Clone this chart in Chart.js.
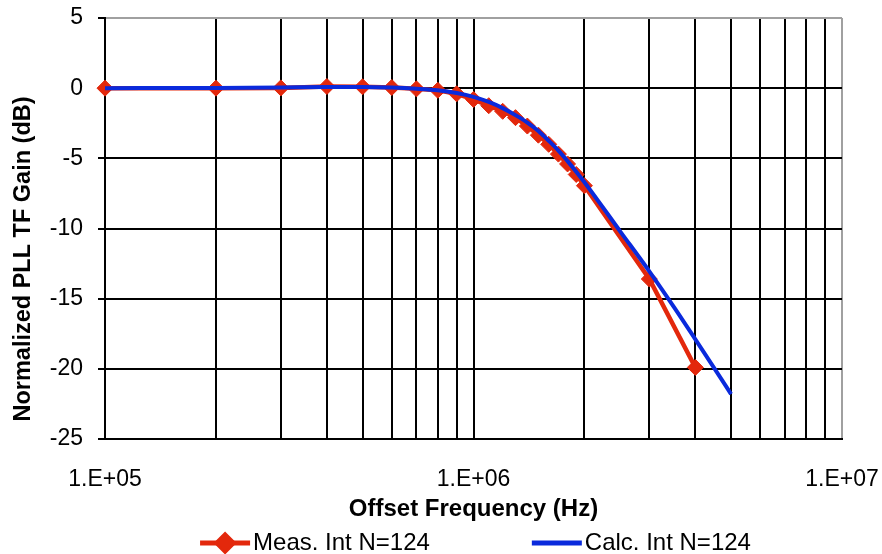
<!DOCTYPE html>
<html>
<head>
<meta charset="utf-8">
<title>PLL TF Gain</title>
<script src="https://cdn.jsdelivr.net/npm/chart.js@4.4.1/dist/chart.umd.min.js"></script>
<style>
  html, body { margin: 0; padding: 0; background: #fff; }
  #wrap { width: 882px; height: 554px; position: relative; }
</style>
</head>
<body>
<div id="wrap"><canvas id="tfChart"></canvas></div>
<script>
// measured points (red diamonds)
const measFreq = [1e5, 2e5, 3e5, 4e5, 5e5, 6e5, 7e5, 8e5, 9e5, 1e6,
  1.1e6, 1.2e6, 1.3e6, 1.4e6, 1.5e6, 1.6e6, 1.7e6, 1.8e6, 1.9e6, 2e6, 3e6, 4e6];
const measGain = [0.0, 0.0, 0.02, 0.12, 0.1, 0.05, -0.05, -0.15, -0.4, -0.8,
  -1.25, -1.65, -2.1, -2.7, -3.35, -4.0, -4.7, -5.4, -6.15, -6.95, -13.6, -19.9];

// calculated curve (blue)
const calcFreq = [1e5, 2e5, 3e5, 4e5, 5e5, 6e5, 7e5, 8e5, 9e5, 1e6,
  1.1e6, 1.2e6, 1.3e6, 1.4e6, 1.5e6, 1.6e6, 1.7e6, 1.8e6, 1.9e6, 2e6,
  2.5e6, 3e6, 3.5e6, 4e6, 4.5e6, 5e6];
const calcGain = [0.0, 0.02, 0.05, 0.08, 0.08, 0.04, -0.04, -0.15, -0.35, -0.62,
  -0.98, -1.42, -1.92, -2.45, -3.05, -3.75, -4.45, -5.2, -5.95, -6.7,
  -10.2, -13.05, -15.6, -17.9, -19.95, -21.8];

const seriesNames = ['Meas. Int N=124', 'Calc. Int N=124'];
const seriesColors = ['#E3280C', '#0A2ADC'];

// x axis: gridline at every 1..9 of each decade, labels only on decades
const xTicks = [];
for (const d of [1e5, 1e6]) {
  for (let m = 1; m < 10; m++) xTicks.push(m * d);
}
xTicks.push(1e7);
const xMajor = [1e5, 1e6, 1e7];
const xMajorLabels = ['1.E+05', '1.E+06', '1.E+07'];

const yMin = -25, yMax = 5, yStep = 5;
const xTitle = 'Offset Frequency (Hz)';
const yTitle = 'Normalized PLL TF Gain (dB)';

const FONT = '"Liberation Sans", Arial, sans-serif';
Chart.defaults.font.family = FONT;
Chart.defaults.color = '#000';

const toPoints = (xs, ys) => xs.map((x, i) => ({ x: x, y: ys[i] }));

// y title sits lower than the plot middle in the original, and the legend
// has a line sample with a diamond, so both are drawn here
const extras = {
  id: 'extras',
  afterDraw(chart) {
    const ctx = chart.ctx;
    const area = chart.chartArea;
    ctx.save();
    ctx.fillStyle = '#000';
    ctx.font = 'bold 23.5px ' + FONT;
    ctx.textAlign = 'center';
    ctx.textBaseline = 'middle';
    ctx.translate(24, 259);
    ctx.rotate(-Math.PI / 2);
    ctx.fillText(yTitle, 0, 0);
    ctx.restore();

    ctx.save();
    ctx.font = '24px ' + FONT;
    ctx.textBaseline = 'middle';
    ctx.textAlign = 'left';
    const lineLen = 50, gapText = 3, gapItem = 102;
    const widths = seriesNames.map(n => lineLen + gapText + ctx.measureText(n).width);
    const total = widths[0] + widths[1] + gapItem;
    let x = (area.left + area.right) / 2 + 2 - total / 2;
    const y = chart.scales.x.bottom + 19;
    seriesNames.forEach((name, i) => {
      ctx.strokeStyle = seriesColors[i];
      ctx.lineWidth = 5;
      ctx.beginPath();
      ctx.moveTo(x, y);
      ctx.lineTo(x + lineLen, y);
      ctx.stroke();
      if (i === 0) {
        Chart.helpers.drawPoint(ctx, { pointStyle: 'rectRot', radius: 8, rotation: 0, borderWidth: 1 }, x + lineLen / 2, y);
        ctx.fillStyle = seriesColors[i];
        ctx.fill();
      }
      ctx.fillStyle = '#000';
      ctx.fillText(name, x + lineLen + gapText, y);
      x += widths[i] + gapItem;
    });
    ctx.restore();
  }
};

new Chart(document.getElementById('tfChart'), {
  type: 'scatter',
  data: {
    datasets: [
      {
        label: seriesNames[0],
        data: toPoints(measFreq, measGain),
        showLine: true,
        borderColor: seriesColors[0],
        backgroundColor: seriesColors[0],
        borderWidth: 4.5,
        pointStyle: 'rectRot',
        pointRadius: 8,
        pointBorderWidth: 1,
        pointBorderColor: seriesColors[0],
        pointBackgroundColor: seriesColors[0],
        tension: 0,
        clip: false,
        order: 2,
      },
      {
        label: seriesNames[1],
        data: toPoints(calcFreq, calcGain),
        showLine: true,
        borderColor: seriesColors[1],
        backgroundColor: seriesColors[1],
        borderWidth: 4,
        pointRadius: 0,
        cubicInterpolationMode: 'monotone',
        clip: false,
        order: 1,
      },
    ],
  },
  options: {
    responsive: true,
    maintainAspectRatio: false,
    animation: false,
    layout: { padding: { left: 0, right: 40, top: 18, bottom: 30 } },
    plugins: {
      legend: { display: false },
      tooltip: { enabled: false },
    },
    scales: {
      x: {
        type: 'logarithmic',
        min: 1e5,
        max: 1e7,
        afterBuildTicks: (scale) => {
          scale.ticks = xTicks.map(v => ({ value: v }));
        },
        afterFit: (scale) => {
          scale.height = 85;
          scale.paddingLeft = 0;
          scale.paddingRight = 0;
        },
        ticks: {
          autoSkip: false,
          maxRotation: 0,
          padding: 27,
          font: { size: 23 },
          callback: (v) => {
            const i = xMajor.indexOf(v);
            return i >= 0 ? xMajorLabels[i] : '';
          },
        },
        grid: {
          color: (c) => (c.tick && c.tick.value === 1e7 ? '#a0a0a0' : '#000'),
          lineWidth: 2,
          drawTicks: false,
        },
        border: { color: '#000', width: 2 },
        title: {
          display: true,
          text: xTitle,
          font: { size: 24, weight: 'bold' },
          padding: { top: 0, bottom: 0 },
        },
      },
      y: {
        min: yMin,
        max: yMax,
        afterFit: (scale) => {
          scale.width = 105;
          scale.paddingTop = 0;
          scale.paddingBottom = 0;
        },
        ticks: {
          stepSize: yStep,
          padding: 15,
          font: { size: 23 },
        },
        grid: {
          color: (c) => (c.tick && c.tick.value === yMax ? '#a0a0a0' : '#000'),
          lineWidth: 2,
          tickLength: 7,
          tickColor: '#000',
        },
        border: { color: '#000', width: 2 },
      },
    },
  },
  plugins: [extras],
});
</script>
</body>
</html>
